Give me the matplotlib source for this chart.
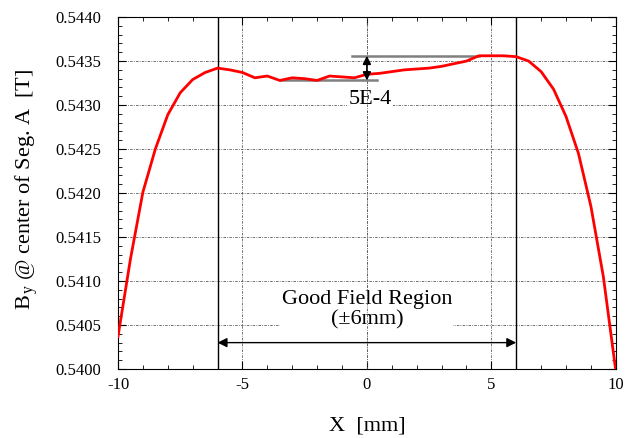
import matplotlib
matplotlib.use("Agg")
import matplotlib.pyplot as plt
from matplotlib.ticker import MultipleLocator, FormatStrFormatter

plt.rcParams['font.family'] = ['Liberation Serif', 'DejaVu Serif']
plt.rcParams['mathtext.fontset'] = 'custom'
plt.rcParams['mathtext.rm'] = 'Liberation Serif'
plt.rcParams['mathtext.it'] = 'Liberation Serif:italic'
plt.rcParams['axes.unicode_minus'] = False

# data
x_mm = [-10, -9.5, -9, -8.5, -8, -7.5, -7, -6.5, -6, -5.5, -5, -4.5, -4, -3.5, -3,
        -2.5, -2, -1.5, -1, -0.5, 0, 0.5, 1, 1.5, 2, 2.5, 3, 3.5, 4, 4.5, 5,
        5.5, 6, 6.5, 7, 7.5, 8, 8.5, 9, 9.5, 10]
by_T = [0.54037, 0.54125, 0.54201, 0.54250, 0.54289, 0.54314, 0.54329, 0.54337,
        0.54342, 0.54340, 0.54337, 0.54331, 0.54333, 0.54328, 0.54331,
        0.54330, 0.54328, 0.54333, 0.54332, 0.54331, 0.54335, 0.54336, 0.54338,
        0.54340, 0.54341, 0.54342, 0.54344, 0.54347, 0.54350, 0.54356, 0.54356,
        0.54356, 0.54355, 0.54350, 0.54338, 0.54318, 0.54287, 0.54245, 0.54185,
        0.54105, 0.53998]

gfr_edges = [-6, 6]
spread_lo = 0.54328   # min in region
spread_hi = 0.54356   # max in region

fig = plt.figure(figsize=(6.29, 4.38), dpi=100)
ax = fig.add_axes([0.1876, 0.1575, 0.7914, 0.8035])

grid_style = dict(color='0.35', linestyle=(0, (3, 1.5, 1, 1.5)), linewidth=0.6)
ax.grid(True, which='major', **grid_style)

ax.plot(x_mm, by_T, color='red', lw=2, zorder=5)

for xe in gfr_edges:
    ax.axvline(xe, color='black', lw=1, zorder=4)

# 5E-4 marker
ax.plot([-3.5, 0.4], [spread_lo, spread_lo], color='0.5', lw=1.8, zorder=3)
ax.plot([-0.6, 4.5], [spread_hi, spread_hi], color='0.5', lw=1.8, zorder=3)
ax.annotate('', xy=(0, spread_lo), xytext=(0, spread_hi),
            arrowprops=dict(arrowstyle='<|-|>', color='black', lw=1.2,
                            mutation_scale=12, shrinkA=0, shrinkB=0), zorder=6)
ax.text(0.12, 0.54306, '5E-4', ha='center', va='center', fontsize=16,
        bbox=dict(facecolor='white', edgecolor='none', pad=1), zorder=2)

# good field region
ax.annotate('', xy=(-6, 0.54030), xytext=(6, 0.54030),
            arrowprops=dict(arrowstyle='<|-|>', color='black', lw=1,
                            mutation_scale=14, shrinkA=0, shrinkB=0), zorder=6)
ax.text(0, 0.54067, 'Good Field Region\n(±6mm)', ha='center', va='center',
        fontsize=16, linespacing=1.1,
        bbox=dict(facecolor='white', edgecolor='none', pad=1), zorder=2)
ax.axvline(0, zorder=2.5, **grid_style)

ax.set_xlim(-10, 10)
ax.set_ylim(0.5400, 0.5440)
ax.xaxis.set_major_locator(MultipleLocator(5))
ax.xaxis.set_minor_locator(MultipleLocator(1))
ax.yaxis.set_major_locator(MultipleLocator(0.0005))
ax.yaxis.set_minor_locator(MultipleLocator(0.0001))
ax.yaxis.set_major_formatter(FormatStrFormatter('%.4f'))
ax.tick_params(which='both', direction='in', top=True, right=True, labelsize=12)
ax.tick_params(which='major', length=6, width=0.8)
ax.tick_params(which='minor', length=3, width=0.6)
ax.tick_params(axis='x', pad=6)
ax.tick_params(axis='y', pad=12)

ax.set_xlabel('X  [mm]', fontsize=16, labelpad=17)
ax.set_ylabel(r'B$_{\,\mathregular{y}}$ @ center of Seg. A  [T]', fontsize=16)
ax.yaxis.set_label_coords(-0.157, 0.51)

fig.savefig('out.png', dpi=100)
